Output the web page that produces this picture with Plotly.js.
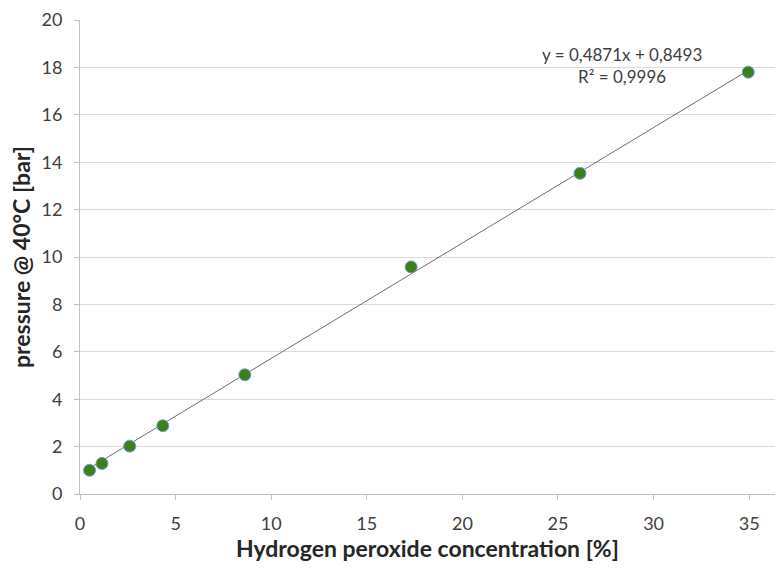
<!DOCTYPE html>
<html>
<head>
<meta charset="utf-8">
<script src="https://cdn.plot.ly/plotly-3.0.1.min.js"></script>
<style>html,body{margin:0;padding:0;background:#fff;}#chart{width:777px;height:569px;}</style>
</head>
<body>
<div id="chart"></div>
<script>
const concentration = [0.5, 1.15, 2.6, 4.33, 8.62, 17.32, 26.15, 34.95];
const pressure = [1.0, 1.29, 2.02, 2.88, 5.03, 9.58, 13.53, 17.8];
const trendSlope = 0.4871;
const trendIntercept = 0.8493;
const trendX = [0.45, 34.95];
const equationText = "y = 0,4871x + 0,8493<br>R² = 0,9996";
const xTitle = "Hydrogen peroxide concentration [%]";
const yTitle = "pressure @ 40°C [bar]";
const xTicks = [0, 5, 10, 15, 20, 25, 30, 35];
const yTicks = [0, 2, 4, 6, 8, 10, 12, 14, 16, 18, 20];

const font = "Lato, Open Sans, sans-serif";

const trace1 = {
  x: trendX,
  y: trendX.map(v => trendSlope * v + trendIntercept),
  mode: 'lines',
  line: {color: '#6e6e6e', width: 1},
  hoverinfo: 'skip',
  showlegend: false
};
const trace2 = {
  x: concentration,
  y: pressure,
  mode: 'markers',
  marker: {color: '#3f7f1a', size: 12, line: {color: '#6f9fd8', width: 1}},
  showlegend: false
};

const layout = {
  width: 777, height: 569,
  margin: {l: 80, r: 2, t: 20, b: 75},
  paper_bgcolor: '#fff', plot_bgcolor: '#fff',
  font: {family: font, color: '#404040', size: 18},
  xaxis: {
    range: [0, 36.35], tickvals: xTicks,
    showgrid: false, zeroline: false,
    showline: true, linecolor: '#bfbfbf', linewidth: 1,
    ticks: 'outside', ticklen: 5, tickcolor: '#bfbfbf',
    ticklabelstandoff: 8,
    tickfont: {size: 18, color: '#404040', family: font},
    title: {text: xTitle, font: {size: 23, color: '#262626', family: font, weight: 'bold'}, standoff: 7}
  },
  yaxis: {
    range: [0, 20], tickvals: yTicks,
    showgrid: true, gridcolor: '#d9d9d9', gridwidth: 1, zeroline: false,
    showline: true, linecolor: '#bfbfbf', linewidth: 1,
    ticks: 'outside', ticklen: 5, tickcolor: '#bfbfbf',
    ticklabelstandoff: 8,
    tickfont: {size: 18, color: '#404040', family: font},
    title: {text: yTitle, font: {size: 23, color: '#262626', family: font, weight: 'bold'}, standoff: 4}
  },
  annotations: [{
    x: 28.35, y: 18.1, xref: 'x', yref: 'y', text: equationText,
    showarrow: false, font: {size: 17, color: '#404040', family: font}, align: 'center'
  }]
};

Plotly.newPlot('chart', [trace1, trace2], layout, {displayModeBar: false, staticPlot: true});
</script>
</body>
</html>
